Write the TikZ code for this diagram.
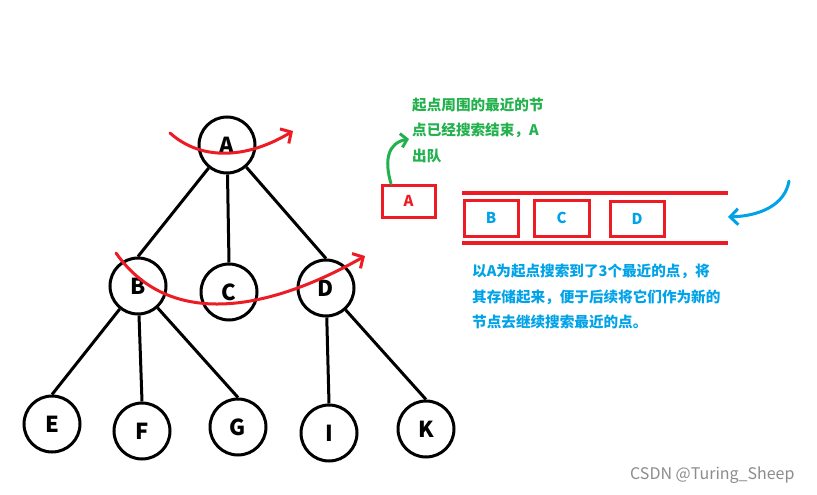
\documentclass[tikz,border=0pt]{standalone}
\usepackage{fontspec}
\setmainfont{Noto Sans CJK SC}
\usepackage{xcolor}
\usetikzlibrary{arrows.meta,positioning}
\definecolor{bfsred}  {HTML}{ED1C24}
\definecolor{bfsgreen}{HTML}{22B14C}
\definecolor{bfsblue} {HTML}{00A2E8}
\begin{document}
\begin{tikzpicture}[
  x=1pt, y=-1pt,
  vert/.style={circle, draw, line width=3pt, minimum size=56pt, inner sep=0pt,
               font=\fontsize{22}{24}\selectfont\bfseries},
  edge/.style={line width=3pt},
  qbox/.style={rectangle, draw=bfsred, line width=3pt, minimum width=54pt,
               minimum height=36pt, inner sep=0pt, font=\fontsize{15}{16}\selectfont\bfseries},
  wall/.style={bfsred, line width=3.2pt},
  sweep/.style={bfsred, line width=3pt, line cap=round,
                -{Straight Barb[length=8pt,width=17pt,line width=3pt]}},
  note/.style={align=left, anchor=north west, inner sep=0pt,
               font=\fontsize{14.6}{25.3}\selectfont\bfseries},
]
\useasboundingbox[fill=white] (0,0) rectangle (817,495);

% tree
\node[vert](A) at (227,145) {A};
\node[vert](B) at (138,286) {B};
\node[vert](C) at (229,292) {C};
\node[vert](D) at (326,288) {D};
\node[vert](E) at (52,424)  {E};
\node[vert](F) at (142,431) {F};
\node[vert](G) at (238,427) {G};
\node[vert](I) at (329,433) {I};
\node[vert](K) at (426,429) {K};

\draw[edge](A)--(B.north); \draw[edge](A)--(C.north); \draw[edge](A)--(D.north);
\draw[edge](B)--(E.north); \draw[edge](B)--(F.north); \draw[edge](B)--(G.north);
\draw[edge](D)--(I.north); \draw[edge](D)--(K.north);

% sweeps over the levels
\draw[sweep] (170,133) .. controls (200,160) and (245,160) .. (293,131);
\draw[sweep] (116,253) .. controls (170,330) and (270,310) .. (365,256);

% queue
\node[qbox, minimum width=53pt, minimum height=32pt, text=bfsred](qa) at (408.5,201) {A};
\node[qbox, text=bfsblue](qb) at (491,218)   {B};
\node[qbox, text=bfsblue, minimum width=55pt](qc) at (561.5,218) {C};
\node[qbox, text=bfsblue, minimum height=35pt](qd) at (637,218.5) {D};
\draw[wall] (462,193) -- (728,193);
\draw[wall] (462,243) -- (728,243);

% dequeue and enqueue
\draw[bfsgreen, line width=3pt, line cap=round,
      -{Straight Barb[length=6pt,width=14pt,line width=3pt]}]
  (qa.north -| 391,0) .. controls (384,160) and (388,143) .. (409,139);
\draw[bfsblue, line width=3pt, line cap=round,
      -{Straight Barb[length=8pt,width=16pt,line width=3pt]}]
  (789,181) .. controls (785,205) and (760,216) .. (728,217);

% notes
\node[note, text=bfsgreen](outnote) at (412,98)
  {起点周围的最近的节\\点已经搜索结束，A\\出队};
\node[note, text=bfsblue](innote) at (472,264)
  {以A为起点搜索到了3个最近的点，将\\其存储起来，便于后续将它们作为新的\\节点去继续搜索最近的点。};

\node[anchor=west, inner sep=0pt, text=black!45, font=\fontsize{16}{18}\selectfont]
  (mark) at (630,475) {CSDN @Turing\_Sheep};
\end{tikzpicture}
\end{document}
